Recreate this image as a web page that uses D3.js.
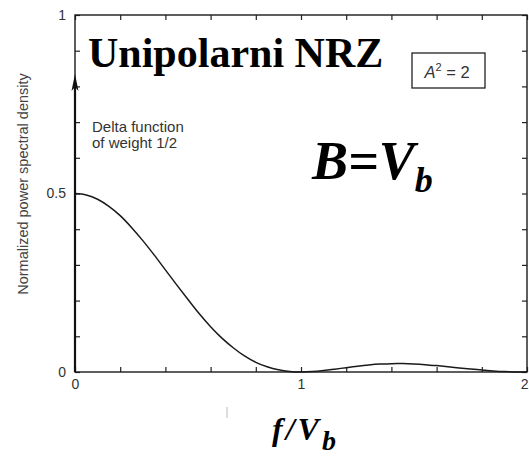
<!DOCTYPE html>
<html>
<head>
<meta charset="utf-8">
<script src="https://cdn.jsdelivr.net/npm/d3@7/dist/d3.min.js"></script>
<style>
  html, body { margin: 0; padding: 0; background: #fff; }
  svg { display: block; }
  .tick line { stroke: #222; stroke-width: 1.2; }
  .domain { stroke: none; }
</style>
</head>
<body>
<svg id="chart" width="529" height="458"></svg>
<script>
// Normalized frequency f/Vb and the continuous part of the unipolar NRZ spectrum
const freq = [0, 0.05, 0.1, 0.15, 0.2, 0.25, 0.3, 0.35, 0.4, 0.45, 0.5, 0.55, 0.6, 0.65, 0.7, 0.75,
  0.8, 0.85, 0.9, 0.95, 1.0, 1.05, 1.1, 1.15, 1.2, 1.25, 1.3, 1.35, 1.4, 1.45, 1.5, 1.55, 1.6,
  1.65, 1.7, 1.75, 1.8, 1.85, 1.9, 1.95, 2.0];
const psd = [0.500, 0.496, 0.484, 0.464, 0.438, 0.405, 0.368, 0.328, 0.286, 0.244, 0.203, 0.163,
  0.127, 0.095, 0.068, 0.045, 0.027, 0.0145, 0.006, 0.0014, 0, 0.0011, 0.004, 0.0079, 0.0122,
  0.0162, 0.0196, 0.0221, 0.0234, 0.0235, 0.0225, 0.0206, 0.0179, 0.0148, 0.0115, 0.0083, 0.0054,
  0.0031, 0.0013, 0.0003, 0];

// Discrete line at f = 0 (drawn as an arrow)
const deltaFreq = 0;
const deltaArrowHeight = 0.835;

// Axis ticks
const xMinorTicks = [0, 0.2, 0.4, 0.6, 0.8, 1.0, 1.2, 1.4, 1.6, 1.8, 2.0];
const xTickLabels = [0, 1, 2];
const yMinorTicks = [0, 0.1, 0.2, 0.3, 0.4, 0.5, 0.6, 0.7, 0.8, 0.9, 1.0];
const yTickLabels = [0, 0.5, 1];

const svg = d3.select("#chart");

const x = d3.scaleLinear().domain([0, 2]).range([75, 527]);
const y = d3.scaleLinear().domain([0, 1]).range([372, 15]);

const fmt = d => (xTickLabels.includes(d) ? String(d) : "");
const fmtY = d => (yTickLabels.includes(d) ? String(d) : "");

const styleTickText = g => g
  .attr("font-family", "'Liberation Sans', Arial, sans-serif")
  .attr("font-size", 14)
  .call(s => s.selectAll(".tick text").attr("fill", "#333"));

// Bottom axis: ticks point inward
svg.append("g")
  .attr("transform", `translate(0,${y(0)})`)
  .call(d3.axisBottom(x).tickValues(xMinorTicks).tickSizeInner(-5).tickSizeOuter(0).tickPadding(9).tickFormat(fmt))
  .call(styleTickText)
  .call(g => g.selectAll(".tick text").attr("dy", "0.6em"))
  .call(g => g.selectAll(".tick text").filter(d => d === 2).attr("text-anchor", "end").attr("dx", 1));

// Top axis
svg.append("g")
  .attr("transform", `translate(0,${y(1)})`)
  .call(d3.axisTop(x).tickValues(xMinorTicks).tickSizeInner(-5).tickSizeOuter(0).tickFormat(""));

// Left axis
svg.append("g")
  .attr("transform", `translate(${x(0)},0)`)
  .call(d3.axisLeft(y).tickValues(yMinorTicks).tickSizeInner(-5).tickSizeOuter(0).tickPadding(9).tickFormat(fmtY))
  .call(styleTickText);

// Right axis
svg.append("g")
  .attr("transform", `translate(${x(2)},0)`)
  .call(d3.axisRight(y).tickValues(yMinorTicks).tickSizeInner(-5).tickSizeOuter(0).tickFormat(""));

// Frame
svg.append("rect")
  .attr("x", x(0)).attr("y", y(1))
  .attr("width", x(2) - x(0)).attr("height", y(0) - y(1))
  .attr("fill", "none").attr("stroke", "#1a1a1a").attr("stroke-width", 1.4);

// Spectrum curve
const line = d3.line()
  .x((d, i) => x(freq[i]))
  .y(d => y(d))
  .curve(d3.curveMonotoneX);

svg.append("path")
  .datum(psd)
  .attr("d", line)
  .attr("fill", "none")
  .attr("stroke", "#1a1a1a")
  .attr("stroke-width", 1.5);

// Delta function arrow
const ax = x(deltaFreq), ay = y(deltaArrowHeight);
svg.append("line")
  .attr("x1", ax).attr("x2", ax)
  .attr("y1", y(0)).attr("y2", ay + 8)
  .attr("stroke", "#111").attr("stroke-width", 2.2);
svg.append("path")
  .attr("d", `M${ax},${ay} L${ax - 3.5},${ay + 17} L${ax},${ay + 13} L${ax + 3.5},${ay + 17} Z`)
  .attr("fill", "#111");

// Annotation for the delta
const note = svg.append("text")
  .attr("font-family", "'Liberation Sans', Arial, sans-serif")
  .attr("font-size", 15)
  .attr("fill", "#333");
note.append("tspan").attr("x", 92).attr("y", 132).text("Delta function");
note.append("tspan").attr("x", 92).attr("y", 148).text("of weight 1/2");

// Y-axis title
svg.append("text")
  .attr("transform", `translate(28,184) rotate(-90)`)
  .attr("text-anchor", "middle")
  .attr("font-family", "'Liberation Sans', Arial, sans-serif")
  .attr("font-size", 14.5)
  .attr("fill", "#444")
  .text("Normalized power spectral density");

// Parameter box
svg.append("rect")
  .attr("x", 412).attr("y", 53).attr("width", 73).attr("height", 35)
  .attr("fill", "#fff").attr("stroke", "#222").attr("stroke-width", 1.3);
const par = svg.append("text")
  .attr("x", 447).attr("y", 78)
  .attr("text-anchor", "middle")
  .attr("font-family", "'Liberation Sans', Arial, sans-serif")
  .attr("font-size", 16.5)
  .attr("fill", "#333");
par.append("tspan").attr("font-style", "italic").text("A");
par.append("tspan").attr("font-size", 11).attr("dy", -7).text("2");
par.append("tspan").attr("dy", 7).text(" = 2");

// Title
svg.append("text")
  .attr("x", 88).attr("y", 67)
  .attr("font-family", "'Liberation Serif', 'Times New Roman', serif")
  .attr("font-weight", "bold")
  .attr("font-size", 42)
  .attr("fill", "#000")
  .text("Unipolarni NRZ");

// Bandwidth annotation
const bw = svg.append("text")
  .attr("x", 312).attr("y", 179)
  .attr("font-family", "'Liberation Serif', 'Times New Roman', serif")
  .attr("font-weight", "bold")
  .attr("font-style", "italic")
  .attr("font-size", 54)
  .attr("fill", "#000");
bw.append("tspan").text("B=V");
bw.append("tspan").attr("font-size", 36).attr("dy", 13).text("b");

// X-axis title
const xt = svg.append("text")
  .attr("x", 272).attr("y", 440)
  .attr("font-family", "'Liberation Serif', 'Times New Roman', serif")
  .attr("font-weight", "bold")
  .attr("font-style", "italic")
  .attr("font-size", 32)
  .attr("fill", "#000");
xt.append("tspan").attr("letter-spacing", 3).text("f/V");
xt.append("tspan").attr("font-size", 28).attr("dy", 10).text("b");

// Faint mark below the axis
svg.append("line")
  .attr("x1", 227).attr("x2", 227).attr("y1", 407).attr("y2", 418)
  .attr("stroke", "#bbb").attr("stroke-width", 1);
</script>
</body>
</html>
